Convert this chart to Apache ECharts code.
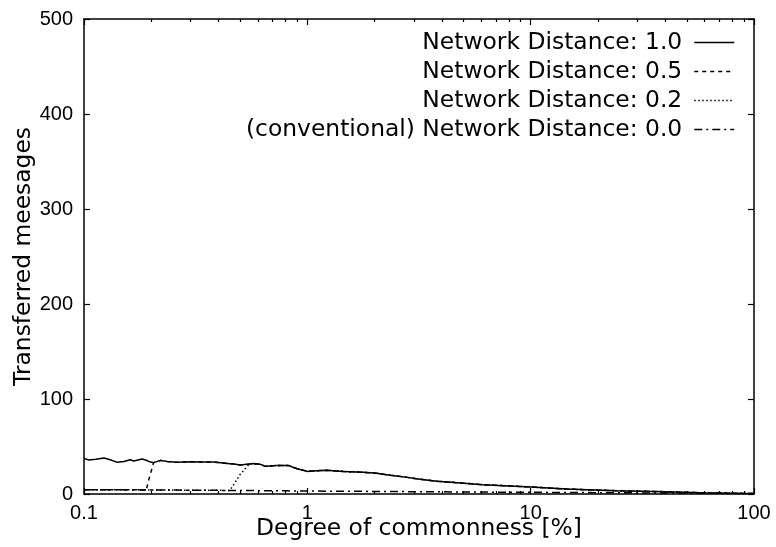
<!DOCTYPE html>
<html>
<head>
<meta charset="utf-8">
<script src="https://cdn.jsdelivr.net/npm/echarts@6/dist/echarts.min.js"></script>
<style>
html,body{margin:0;padding:0;background:#fff;}
#chart{width:776px;height:547px;}
</style>
</head>
<body>
<div id="chart"></div>
<script>
// ---- data ----
const seriesNames = [
  'Network Distance: 1.0',
  'Network Distance: 0.5',
  'Network Distance: 0.2',
  '(conventional) Network Distance: 0.0'
];
const xValues = [0.1, 0.105, 0.113, 0.123, 0.131, 0.141, 0.151, 0.161, 0.167, 0.182,
  0.19, 0.195, 0.205, 0.22, 0.236, 0.261, 0.3, 0.33, 0.38, 0.42,
  0.45, 0.47, 0.5, 0.55, 0.575, 0.615, 0.65, 0.73, 0.82, 0.9,
  1.0, 1.1, 1.22, 1.45, 1.78, 2.0, 2.35, 2.8, 3.2, 3.8,
  4.4, 6.1, 10, 14.5, 24, 40, 57, 80, 100];
const nd10 = [37.5, 35.8, 36.5, 37.9, 36.1, 33.3, 34.3, 36.1, 34.7, 36.8,
  35.5, 34.3, 33.0, 35.4, 34.3, 33.3, 34.0, 33.6, 33.6, 32.6,
  31.8, 31.5, 30.5, 31.5, 32.0, 31.2, 29.1, 30.1, 30.1, 26.6,
  23.8, 24.5, 24.9, 23.8, 22.8, 22.1, 19.8, 17.5, 15.5, 13.5,
  12.4, 9.8, 7.4, 5.2, 3.5, 2.4, 1.4, 0.8, 0.5];
const nd05 = [4.6, 4.6, 4.6, 4.5, 4.5, 4.5, 4.4, 4.4, 4.4, 4.3,
  4.3, 15.0, 33.0, 35.4, 34.3, 33.3, 34.0, 33.6, 33.6, 32.6,
  31.8, 31.5, 30.5, 31.5, 32.0, 31.2, 29.1, 30.1, 30.1, 26.6,
  23.8, 24.5, 24.9, 23.8, 22.8, 22.1, 19.8, 17.5, 15.5, 13.5,
  12.4, 9.8, 7.4, 5.2, 3.5, 2.4, 1.4, 0.8, 0.5];
const nd02 = [4.6, 4.6, 4.6, 4.5, 4.5, 4.5, 4.4, 4.4, 4.4, 4.3,
  4.3, 4.3, 4.2, 4.2, 4.1, 4.1, 4.0, 4.0, 3.9, 3.8,
  3.8, 10.5, 20.5, 31.5, 32.0, 31.2, 29.1, 30.1, 30.1, 26.6,
  23.8, 24.5, 24.9, 23.8, 22.8, 22.1, 19.8, 17.5, 15.5, 13.5,
  12.4, 9.8, 7.4, 5.2, 3.5, 2.4, 1.4, 0.8, 0.5];
const nd00 = [4.6, 4.6, 4.6, 4.5, 4.5, 4.5, 4.4, 4.4, 4.4, 4.3,
  4.3, 4.3, 4.2, 4.2, 4.1, 4.1, 4.0, 4.0, 3.9, 3.8,
  3.8, 3.7, 3.7, 3.6, 3.6, 3.5, 3.5, 3.4, 3.3, 3.2,
  3.2, 3.1, 3.0, 2.9, 2.8, 2.7, 2.6, 2.5, 2.4, 2.3,
  2.2, 2.0, 1.8, 1.6, 1.3, 1.0, 0.8, 0.6, 0.5];
const xMin = 0.1, xMax = 100;
const yMin = 0, yMax = 500, yStep = 100;
const minorTickValues = [0.2,0.3,0.4,0.5,0.6,0.7,0.8,0.9, 2,3,4,5,6,7,8,9, 20,30,40,50,60,70,80,90];

// ---- chart ----
const allValues = [nd10, nd05, nd02, nd00];
const dashes = ['solid', [4, 4], [1.5, 2.5], [8, 4, 2, 4]];
const tickFont = { fontFamily: '"Liberation Sans", Arial, sans-serif', fontSize: 20, color: '#000' };
const bigFont = { fontFamily: '"DejaVu Sans", sans-serif', fontSize: 23.4, color: '#000' };
const axisLine = { show: true, onZero: false, lineStyle: { color: '#000', width: 1.5 } };
const minorLog = minorTickValues.map(v => Math.log10(v));
const majorTick = { show: true, inside: true, length: 6, lineStyle: { color: '#000', width: 1.2 } };
const minorTick = { show: true, inside: true, length: 3, customValues: minorLog, lineStyle: { color: '#000', width: 1.2 } };

const chart = echarts.init(document.getElementById('chart'), null, { renderer: 'canvas' });
chart.setOption({
  animation: false,
  backgroundColor: '#fff',
  grid: { left: 84, right: 22, top: 19, bottom: 53, containLabel: false, outerBoundsMode: 'none' },
  legend: {
    orient: 'vertical',
    right: 41, top: 31,
    padding: 0,
    align: 'right',
    itemWidth: 40, itemHeight: 14, itemGap: 6,
    itemStyle: { opacity: 0 },
    lineStyle: { width: 1.5 },
    textStyle: Object.assign({ padding: [0, 7, 0, 0] }, bigFont),
    selectedMode: false,
    data: seriesNames
  },
  xAxis: [
    {
      type: 'log', logBase: 10, min: xMin, max: xMax, position: 'bottom',
      axisLine: axisLine,
      axisTick: { show: false },
      axisLabel: Object.assign({ margin: 9 }, tickFont),
      splitLine: { show: false },
      name: 'Degree of commonness [%]', nameLocation: 'middle', nameGap: 23, nameMoveOverlap: false,
      nameTextStyle: bigFont
    },
    {
      type: 'value', min: Math.log10(xMin), max: Math.log10(xMax), interval: 1, position: 'top',
      axisLine: axisLine,
      axisTick: majorTick,
      axisLabel: { show: false }, splitLine: { show: false }
    },
    {
      type: 'value', min: Math.log10(xMin), max: Math.log10(xMax), interval: 1, position: 'bottom',
      axisLine: { show: false, onZero: false },
      axisTick: majorTick,
      axisLabel: { show: false }, splitLine: { show: false }
    },
    {
      type: 'value', min: Math.log10(xMin), max: Math.log10(xMax), position: 'bottom',
      axisLine: { show: false, onZero: false },
      axisTick: minorTick,
      axisLabel: { show: false }, splitLine: { show: false }
    },
    {
      type: 'value', min: Math.log10(xMin), max: Math.log10(xMax), position: 'top',
      axisLine: { show: false, onZero: false },
      axisTick: minorTick,
      axisLabel: { show: false }, splitLine: { show: false }
    }
  ],
  yAxis: [
    {
      type: 'value', min: yMin, max: yMax, interval: yStep, position: 'left',
      axisLine: axisLine,
      axisTick: majorTick,
      axisLabel: Object.assign({ margin: 11 }, tickFont),
      splitLine: { show: false },
      name: 'Transferred meesages', nameLocation: 'middle', nameGap: 49, nameRotate: 90, nameMoveOverlap: false,
      nameTextStyle: bigFont
    },
    {
      type: 'value', min: yMin, max: yMax, interval: yStep, position: 'right',
      axisLine: axisLine,
      axisTick: majorTick,
      axisLabel: { show: false }, splitLine: { show: false }
    }
  ],
  series: seriesNames.map((name, k) => ({
    name: name,
    type: 'line',
    xAxisIndex: 0,
    yAxisIndex: 0,
    symbol: 'none',
    showSymbol: false,
    smooth: false,
    color: '#000',
    lineStyle: { color: '#000', width: 1.5, type: dashes[k] },
    data: xValues.map((x, i) => [x, allValues[k][i]])
  }))
});
</script>
</body>
</html>
